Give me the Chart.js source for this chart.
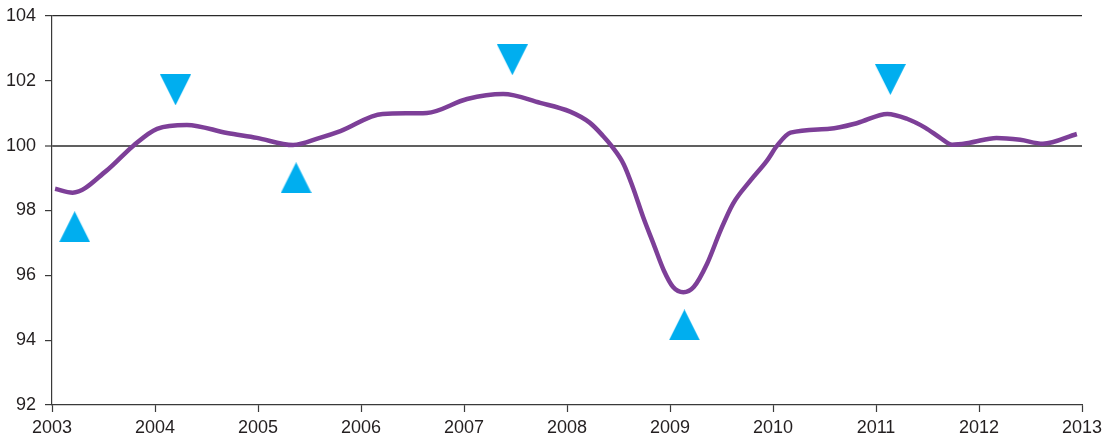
<!DOCTYPE html>
<html>
<head>
<meta charset="utf-8">
<script src="https://cdn.jsdelivr.net/npm/chart.js@4"></script>
<style>
  html, body { margin: 0; padding: 0; background: #ffffff; }
  #wrap { width: 1109px; height: 442px; position: relative; }
</style>
</head>
<body>
<div id="wrap"><canvas id="c" width="1109" height="442"></canvas></div>
<script>
// Index line (decimal years and values)
const lineYears = [2003.03, 2003.20, 2003.53, 2003.79, 2004.02, 2004.31, 2004.70, 2004.99, 2005.34, 2005.60,
  2005.80, 2006.21, 2006.64, 2007.03, 2007.38, 2007.74, 2008.03, 2008.22, 2008.35, 2008.43,
  2008.55, 2008.64, 2008.74, 2008.84, 2008.94, 2009.03, 2009.13, 2009.23, 2009.36, 2009.49,
  2009.61, 2009.78, 2009.94, 2010.04, 2010.17, 2010.55, 2010.82, 2011.11, 2011.30, 2011.48,
  2011.62, 2011.74, 2011.91, 2012.17, 2012.40, 2012.62, 2012.95];
const lineValues = [98.67, 98.55, 99.23, 100.00, 100.52, 100.64, 100.39, 100.24, 100.02, 100.24,
  100.45, 100.98, 101.01, 101.44, 101.59, 101.32, 101.05, 100.71, 100.30, 100.00,
  99.43, 98.71, 97.79, 96.97, 96.15, 95.64, 95.48, 95.64, 96.36, 97.38,
  98.20, 98.92, 99.53, 100.00, 100.40, 100.52, 100.70, 100.98, 100.83, 100.55,
  100.25, 100.03, 100.09, 100.24, 100.18, 100.06, 100.36];

// Turning-point markers
const troughYears = [2003.22, 2005.37, 2009.14];
const troughValues = [97.50, 99.01, 94.47];
const peakYears = [2004.20, 2007.47, 2011.14];
const peakValues = [101.72, 102.65, 102.04];

// Axis ticks
const xTicks = [2003, 2004, 2005, 2006, 2007, 2008, 2009, 2010, 2011, 2012, 2013];
const yTicks = [92, 94, 96, 98, 100, 102, 104];

const toPoints = (xs, ys) => xs.map((x, i) => ({ x: x, y: ys[i] }));

// triangle marker image (31 x 31)
function makeTriangle() {
  const cv = document.createElement('canvas');
  cv.width = 31; cv.height = 31;
  const g = cv.getContext('2d');
  g.fillStyle = '#00AEEF';
  g.beginPath();
  g.moveTo(15.5, 0);
  g.lineTo(31, 31);
  g.lineTo(0, 31);
  g.closePath();
  g.fill();
  return cv;
}
const tri = makeTriangle();

const FONT = { family: "'Liberation Sans', Arial, Helvetica, sans-serif", size: 18 };
const TEXT = '#231F20';

new Chart(document.getElementById('c'), {
  type: 'line',
  data: {
    datasets: [
      {
        data: toPoints(lineYears, lineValues),
        borderColor: '#7D3F98',
        borderWidth: 4.5,
        pointRadius: 0,
        fill: false,
        cubicInterpolationMode: 'monotone',
        order: 2
      },
      {
        type: 'scatter',
        data: toPoints(troughYears, troughValues),
        pointStyle: tri,
        pointRadius: 15,
        rotation: 0,
        order: 1
      },
      {
        type: 'scatter',
        data: toPoints(peakYears, peakValues),
        pointStyle: tri,
        pointRadius: 15,
        rotation: 180,
        order: 1
      }
    ]
  },
  options: {
    responsive: false,
    animation: false,
    layout: { padding: { top: 14.5, right: 27, left: 0, bottom: 0 } },
    plugins: { legend: { display: false }, tooltip: { enabled: false } },
    scales: {
      x: {
        type: 'linear',
        min: 2003,
        max: 2013,
        afterBuildTicks: (s) => { s.ticks = xTicks.map(v => ({ value: v })); },
        afterFit: (s) => { s.height = 37; },
        grid: {
          drawOnChartArea: false,
          drawTicks: true,
          tickLength: 7,
          tickColor: '#3a3a3a',
          tickWidth: 1.2
        },
        border: { color: '#3a3a3a', width: 1.2 },
        ticks: {
          color: TEXT,
          font: FONT,
          padding: 5,
          maxRotation: 0,
          autoSkip: false,
          callback: (v) => String(v)
        }
      },
      y: {
        min: 92,
        max: 104,
        afterBuildTicks: (s) => { s.ticks = yTicks.map(v => ({ value: v })); },
        afterFit: (s) => { s.width = 52; s.paddingTop = 0; s.paddingBottom = 0; },
        grid: {
          drawOnChartArea: true,
          drawTicks: true,
          tickLength: 7,
          tickColor: '#3a3a3a',
          tickWidth: 1.2,
          color: (ctx) => {
            if (!ctx.tick) return 'rgba(0,0,0,0)';
            if (ctx.tick.value === 100) return '#606060';
            if (ctx.tick.value === 104) return '#2a2a2a';
            return 'rgba(0,0,0,0)';
          },
          lineWidth: (ctx) => (ctx.tick && ctx.tick.value === 100) ? 2 : 1.2
        },
        border: { color: '#3a3a3a', width: 1.2 },
        ticks: {
          color: TEXT,
          font: FONT,
          padding: 9,
          callback: (v) => String(v)
        }
      }
    }
  }
});
</script>
</body>
</html>
